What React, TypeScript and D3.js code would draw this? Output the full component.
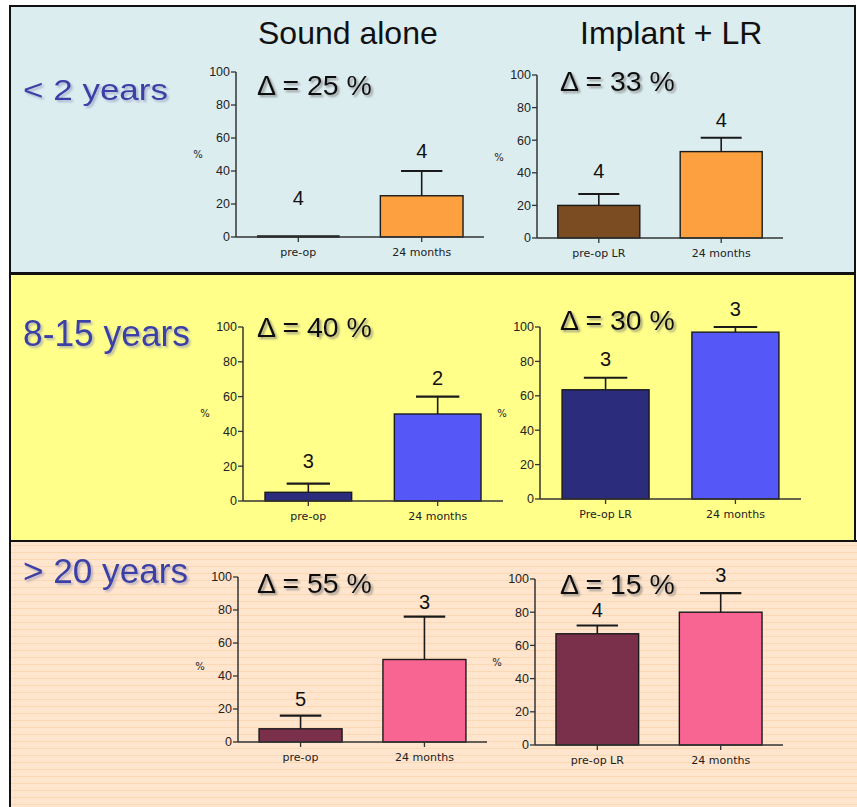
import React from 'react';
import * as d3 from 'd3';

// ---- data ----
const rowLabels = ['< 2 years', '8-15 years', '> 20 years'];
const columnTitles = ['Sound alone', 'Implant + LR'];

// one entry per panel: row-major (row 0 left, row 0 right, row 1 left, ...)
const categories = [
  ['pre-op', '24 months'],
  ['pre-op LR', '24 months'],
  ['pre-op', '24 months'],
  ['Pre-op LR', '24 months'],
  ['pre-op', '24 months'],
  ['pre-op LR', '24 months'],
];
const means = [
  [0, 25],
  [20, 53],
  [5, 50],
  [63.5, 97],
  [8, 50],
  [67, 80],
];
const errors = [
  [0, 15],
  [7, 8.5],
  [5, 10],
  [7, 3],
  [8, 26],
  [5, 11.5],
];
const counts = [
  [4, 4],
  [4, 4],
  [3, 2],
  [3, 3],
  [5, 3],
  [4, 3],
];
const deltas = [25, 33, 40, 30, 55, 15];
const barColors = [
  ['#7b4c21', '#fca040'],
  ['#7b4c21', '#fca040'],
  ['#2b2c7c', '#5558f6'],
  ['#2b2c7c', '#5558f6'],
  ['#7a2f4a', '#f96593'],
  ['#7a2f4a', '#f96593'],
];
const yTicks = [0, 20, 40, 60, 80, 100];

// ---- layout ----
const W = 857;
const H = 807;
const panels = [
  { y0: 6, y1: 273, fill: '#dcedf0' },
  { y0: 274, y1: 541, fill: '#ffff8a' },
  { y0: 541, y1: 807, fill: '#ffe5cd' },
];
const rowLabelStyle = [
  { y: 100, size: 30, length: 145 },
  { y: 346, size: 36, length: 167 },
  { y: 583, size: 35, length: 165 },
];
const frames = [
  { x0: 236, x1: 484, yTop: 72, yBottom: 237, deltaX: 257, deltaY: 95, gaps: [32, 13], pctY: 154 },
  { x0: 537, x1: 783, yTop: 75, yBottom: 238, deltaX: 560, deltaY: 91, gaps: [16, 11], pctY: 157 },
  { x0: 243, x1: 503, yTop: 327, yBottom: 501, deltaX: 257, deltaY: 337, gaps: [16, 12], pctY: 413 },
  { x0: 540, x1: 801, yTop: 327, yBottom: 499, deltaX: 560, deltaY: 330, gaps: [12, 11], pctY: 413 },
  { x0: 238, x1: 487, yTop: 577, yBottom: 742, deltaX: 257, deltaY: 593, gaps: [10, 8], pctY: 666 },
  { x0: 535, x1: 783, yTop: 579, yBottom: 745, deltaX: 560, deltaY: 594, gaps: [8, 11], pctY: 662 },
];

const SANS = '"Liberation Sans", Arial, Helvetica, sans-serif';
const SMALL = '"DejaVu Sans", Verdana, sans-serif';
const AXIS = '#333';

function BarPanel({ i }: { i: number }) {
  const f = frames[i];
  const cats = categories[i];
  const x = d3.scaleBand<string>().domain(cats).range([f.x0, f.x1]).paddingInner(0.33).paddingOuter(0.17);
  const y = d3.scaleLinear().domain([0, 100]).range([f.yBottom, f.yTop]);
  const bw = x.bandwidth();
  return (
    <g>
      {/* bars with upper error whiskers */}
      {cats.map((c, j) => {
        const v = means[i][j];
        const e = errors[i][j];
        const bx = x(c)!;
        const cx = bx + bw / 2;
        const top = y(v + e);
        const h = y(0) - y(v);
        return (
          <g key={c}>
            {h >= 1 ? (
              <rect x={bx} y={y(v)} width={bw} height={h} fill={barColors[i][j]} stroke="#1a1a1a" strokeWidth={1.4} />
            ) : (
              <line x1={bx} x2={bx + bw} y1={y(v) - 0.5} y2={y(v) - 0.5} stroke="#1a1a1a" strokeWidth={2.6} />
            )}
            {e > 0 && (
              <g stroke="#1a1a1a" strokeWidth={1.6}>
                <line x1={cx} x2={cx} y1={y(v)} y2={top} />
                <line x1={cx - bw / 4} x2={cx + bw / 4} y1={top} y2={top} strokeWidth={2.2} />
              </g>
            )}
            <text x={cx} y={top - f.gaps[j]} textAnchor="middle" fontFamily={SANS} fontSize={20} fill="#111">
              {counts[i][j]}
            </text>
            <text x={cx} y={f.yBottom + 19} textAnchor="middle" fontFamily={SMALL} fontSize={11} fill="#222">
              {c}
            </text>
          </g>
        );
      })}
      {/* axes */}
      <line x1={f.x0} x2={f.x1} y1={f.yBottom} y2={f.yBottom} stroke={AXIS} strokeWidth={1.5} />
      <line x1={f.x0} x2={f.x0} y1={f.yTop} y2={f.yBottom} stroke={AXIS} strokeWidth={1.5} />
      {yTicks.map((t) => (
        <g key={t}>
          <line x1={f.x0 - 5} x2={f.x0} y1={y(t)} y2={y(t)} stroke={AXIS} strokeWidth={1.3} />
          <text x={f.x0 - 6} y={y(t)} dy="0.35em" textAnchor="end" fontFamily={SANS} fontSize={12.5} fill="#222">
            {t}
          </text>
        </g>
      ))}
      {cats.map((c) => (
        <line key={c} x1={x(c)! + bw / 2} x2={x(c)! + bw / 2} y1={f.yBottom} y2={f.yBottom + 5} stroke={AXIS} strokeWidth={1.3} />
      ))}
      <text x={f.x0 - 38} y={f.pctY} dy="0.35em" textAnchor="middle" fontFamily={SMALL} fontSize={10} fill="#222">
        %
      </text>
      {/* difference between the two time points */}
      <text x={f.deltaX} y={f.deltaY} fontFamily={SANS} fontSize={28.5} fill="#111" filter="url(#textShadow)">
        {`\u0394 = ${deltas[i]} %`}
      </text>
    </g>
  );
}

export default function App() {
  const stripeYs = d3.range(panels[2].y0 + 4, H, 7);
  return (
    <svg width={W} height={H} style={{ position: 'absolute', left: 0, top: 0, background: '#fff' }}>
      <defs>
        <filter id="textShadow" x="-10%" y="-20%" width="130%" height="150%">
          <feDropShadow dx={2} dy={2} stdDeviation={0.8} floodColor="#777" floodOpacity={0.7} />
        </filter>
        <filter id="labelShadow" x="-10%" y="-20%" width="130%" height="150%">
          <feDropShadow dx={2} dy={2} stdDeviation={0.8} floodColor="#8a8cb8" floodOpacity={0.6} />
        </filter>
      </defs>

      {/* background bands */}
      <rect x={10} y={panels[0].y0} width={845} height={panels[0].y1 - panels[0].y0} fill={panels[0].fill} stroke="#111" strokeWidth={2} />
      <rect x={10} y={panels[1].y0} width={845} height={panels[1].y1 - panels[1].y0} fill={panels[1].fill} stroke="#111" strokeWidth={2} />
      <rect x={10} y={panels[2].y0} width={W - 10} height={H - panels[2].y0} fill={panels[2].fill} />
      {stripeYs.map((sy) => (
        <line key={sy} x1={11} x2={W} y1={sy + 0.5} y2={sy + 0.5} stroke="#fcd8b3" strokeWidth={1} />
      ))}
      <line x1={10} x2={W} y1={panels[2].y0} y2={panels[2].y0} stroke="#111" strokeWidth={2} />
      <line x1={10} x2={10} y1={panels[2].y0} y2={H} stroke="#111" strokeWidth={2} />

      {/* column titles */}
      <text x={258} y={44} fontFamily={SANS} fontSize={32} fill="#111">
        {columnTitles[0]}
      </text>
      <text x={580} y={44} fontFamily={SANS} fontSize={32} fill="#111">
        {columnTitles[1]}
      </text>

      {/* age groups */}
      {rowLabels.map((r, k) => (
        <text
          key={r}
          x={23}
          y={rowLabelStyle[k].y}
          fontFamily={SANS}
          fontSize={rowLabelStyle[k].size}
          textLength={rowLabelStyle[k].length}
          lengthAdjust="spacingAndGlyphs"
          fill="#3b3fa6"
          filter="url(#labelShadow)"
        >
          {r}
        </text>
      ))}

      {frames.map((_, i) => (
        <BarPanel key={i} i={i} />
      ))}
    </svg>
  );
}
